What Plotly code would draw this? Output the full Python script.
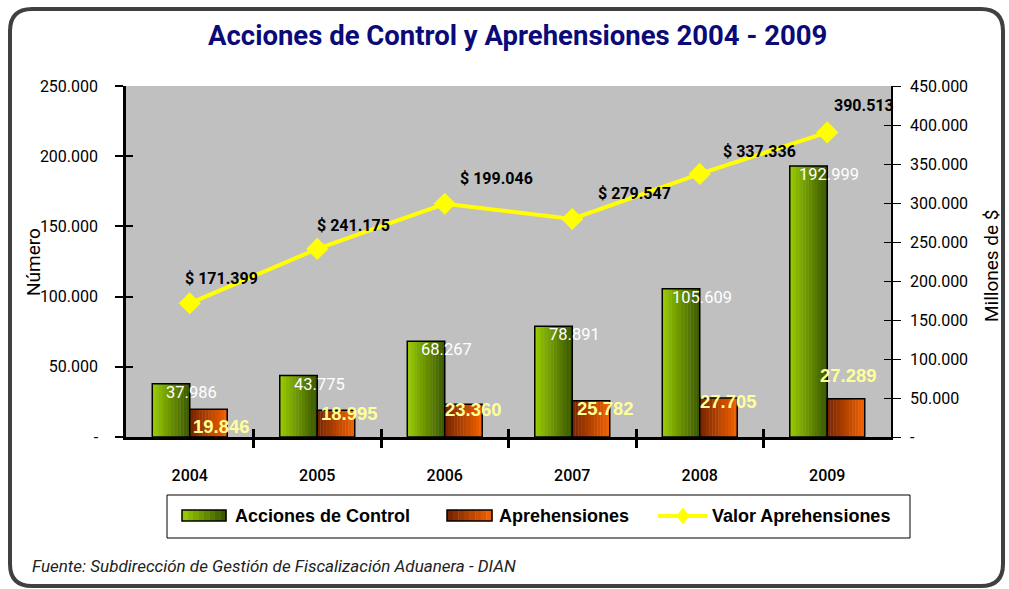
import plotly.graph_objects as go

# ---------------- data ----------------
years = ["2004", "2005", "2006", "2007", "2008", "2009"]
acciones = [37986, 43775, 68267, 78891, 105609, 192999]
aprehensiones = [19846, 18995, 23360, 25782, 27705, 27289]
valor = [171399, 241175, 299046, 279547, 337336, 390513]
valor_labels = ["$ 171.399", "$ 241.175", "$ 199.046", "$ 279.547", "$ 337.336", "390.513"]
left_ticks = [0, 50000, 100000, 150000, 200000, 250000]
right_ticks = [0, 50000, 100000, 150000, 200000, 250000, 300000, 350000, 400000, 450000]
series_names = ["Acciones de Control", "Aprehensiones", "Valor Aprehensiones"]

# ---------------- layout geometry ----------------
W, H = 1009, 589
L, R, T, B = 126, 891, 86, 437
RB = "Roboto, Liberation Sans, sans-serif"
SANS = "Liberation Sans, Arial, sans-serif"


def px(x):
    return (x - L) / (R - L)


def py(y):
    return (B - y) / (B - T)


def fmt(v):
    return "-" if v == 0 else f"{v:,}".replace(",", ".")


def lerp(c1, c2, t):
    a = [int(c1[i:i + 2], 16) for i in (1, 3, 5)]
    b = [int(c2[i:i + 2], 16) for i in (1, 3, 5)]
    return "#" + "".join(f"{round(a[k] + (b[k] - a[k]) * t):02x}" for k in range(3))


xs = list(range(len(years)))
group_w = 0.588
bw = group_w / 2
NSTRIP = 12
GREEN = ("#96c800", "#3c5a00")
ORANGE = ("#7a2600", "#f06000")

fig = go.Figure()


def gradient_bar(values, off, cols, name):
    for s in range(NSTRIP):
        t = s / (NSTRIP - 1)
        fig.add_trace(go.Bar(
            x=xs, y=values, width=bw / NSTRIP + 0.002, offset=off + s * bw / NSTRIP,
            marker=dict(color=lerp(cols[0], cols[1], t), line=dict(width=0)),
            showlegend=False, hoverinfo="skip"))
    fig.add_trace(go.Bar(
        x=xs, y=values, width=bw, offset=off, name=name,
        marker=dict(color="rgba(0,0,0,0)", line=dict(color="black", width=1.5)),
        showlegend=False))


gradient_bar(acciones, -bw, GREEN, series_names[0])
gradient_bar(aprehensiones, 0, ORANGE, series_names[1])

fig.add_trace(go.Scatter(
    x=xs, y=valor, yaxis="y2", mode="lines+markers", name=series_names[2],
    line=dict(color="#ffff00", width=4),
    marker=dict(symbol="diamond", size=17, color="#ffff00"), showlegend=False))

# dummy traces so overlay tick axes render
for xa, ya in (("x2", "y"), ("x3", "y"), ("x", "y3"), ("x", "y4")):
    fig.add_trace(go.Scatter(x=[0], y=[None], xaxis=xa, yaxis=ya, showlegend=False,
                             hoverinfo="skip", mode="markers"))

# ---------------- labels ----------------
ann = []
for i, v in enumerate(acciones):
    ann.append(dict(x=i, y=v, xref="x", yref="y", text=fmt(v), showarrow=False,
                    yanchor="top", xanchor="center", yshift=3, xshift=2,
                    font=dict(family=RB, size=16.5, color="white")))

ap_shift = [(13, -17), (14, -3), (10, -5), (15, -8), (10, -3), (3, 23)]
for i, v in enumerate(aprehensiones):
    dx, dy = ap_shift[i]
    ann.append(dict(x=i, y=v, xref="x", yref="y", text=fmt(v), showarrow=False,
                    yanchor="middle", xanchor="center", xshift=bw / 2 * 127.5 + dx, yshift=dy,
                    font=dict(family=SANS, size=18.5, color="#ffff99", weight="bold")))

val_shift = [(32, 25), (36, 23), (52, 25), (62, 25), (60, 22), (37, 27)]
for i, v in enumerate(valor):
    dx, dy = val_shift[i]
    ann.append(dict(x=i, y=v, xref="x", yref="y2", text=valor_labels[i], showarrow=False,
                    yanchor="middle", xanchor="center", xshift=dx, yshift=dy,
                    font=dict(family=RB, size=16, color="black", weight="bold")))


def paper_text(x, y, text, font, xanchor="center", angle=0):
    ann.append(dict(x=px(x), y=py(y), xref="paper", yref="paper", showarrow=False,
                    xanchor=xanchor, yanchor="middle", text=text, textangle=angle, font=font))


paper_text(517, 36, "Acciones de Control y Aprehensiones 2004 - 2009",
           dict(family=RB, size=27.5, color="#0a0a78", weight="bold"))
paper_text(33, 262, "Número", dict(family=RB, size=19, color="black"), angle=-90)
paper_text(991, 266, "Millones de $", dict(family=RB, size=19, color="black"), angle=-90)
paper_text(30, 566, "Fuente: Subdirección de Gestión de Fiscalización Aduanera - DIAN",
           dict(family=RB, size=17, color="#222222", style="italic"), xanchor="left")

# ---------------- manual legend ----------------
legfont = dict(family=SANS, size=18, color="black", weight="bold")
leg_y = 516
paper_text(233, leg_y, series_names[0], legfont, xanchor="left")
paper_text(497, leg_y, series_names[1], legfont, xanchor="left")
paper_text(710, leg_y, series_names[2], legfont, xanchor="left")

# ---------------- frame shapes ----------------
fx0, fy0, fx1, fy1, rr = 10, 9, 1003, 586, 22
path = (f"M {px(fx0 + rr)},{py(fy0)} L {px(fx1 - rr)},{py(fy0)} "
        f"Q {px(fx1)},{py(fy0)} {px(fx1)},{py(fy0 + rr)} "
        f"L {px(fx1)},{py(fy1 - rr)} Q {px(fx1)},{py(fy1)} {px(fx1 - rr)},{py(fy1)} "
        f"L {px(fx0 + rr)},{py(fy1)} Q {px(fx0)},{py(fy1)} {px(fx0)},{py(fy1 - rr)} "
        f"L {px(fx0)},{py(fy0 + rr)} Q {px(fx0)},{py(fy0)} {px(fx0 + rr)},{py(fy0)} Z")
shapes = [
    dict(type="path", path=path, xref="paper", yref="paper",
         line=dict(color="#404040", width=4), fillcolor="rgba(0,0,0,0)", layer="above"),
    dict(type="rect", xref="paper", yref="paper", x0=px(167), x1=px(910), y0=py(495), y1=py(538),
         line=dict(color="black", width=1), fillcolor="white", layer="below"),
]


def swatch(x0, x1, cols):
    n = 8
    for s in range(n):
        a = x0 + (x1 - x0) * s / n
        b = x0 + (x1 - x0) * (s + 1) / n
        shapes.append(dict(type="rect", xref="paper", yref="paper", x0=px(a), x1=px(b) + 0.0005,
                           y0=py(521), y1=py(510), line=dict(width=0),
                           fillcolor=lerp(cols[0], cols[1], s / (n - 1)), layer="above"))
    shapes.append(dict(type="rect", xref="paper", yref="paper", x0=px(x0), x1=px(x1),
                       y0=py(521), y1=py(510), line=dict(color="black", width=1.5),
                       fillcolor="rgba(0,0,0,0)", layer="above"))


swatch(182, 226, GREEN)
swatch(447, 492, ORANGE)
shapes.append(dict(type="line", xref="paper", yref="paper", x0=px(658), x1=px(707),
                   y0=py(leg_y), y1=py(leg_y), line=dict(color="#ffff00", width=4), layer="above"))
shapes.append(dict(type="path", xref="paper", yref="paper", layer="above",
                   path=f"M {px(683)},{py(leg_y - 8)} L {px(689)},{py(leg_y)} "
                        f"L {px(683)},{py(leg_y + 8)} L {px(677)},{py(leg_y)} Z",
                   fillcolor="#ffff00", line=dict(color="#ffff00", width=1)))

tickfont = dict(family=RB, size=16, color="black")
fig.update_layout(
    width=W, height=H,
    margin=dict(l=L, r=W - R, t=T, b=H - B, pad=0),
    paper_bgcolor="white", plot_bgcolor="#c0c0c0",
    barmode="overlay", showlegend=False,
    xaxis=dict(type="linear", range=[-0.5, 5.5], tickvals=xs, ticktext=years,
               showgrid=False, zeroline=False, showline=True, linecolor="black", linewidth=3,
               ticks="", tickfont=dict(family=RB, size=16, color="black", weight=500),
               ticklabelstandoff=22),
    xaxis2=dict(overlaying="x", type="linear", range=[-0.5, 5.5],
                tickvals=[x + 0.5 for x in xs[:-1]], showticklabels=False,
                ticks="outside", ticklen=10, tickwidth=2.5, tickcolor="black",
                showgrid=False, zeroline=False, anchor="y"),
    xaxis3=dict(overlaying="x", type="linear", range=[-0.5, 5.5],
                tickvals=[x + 0.5 for x in xs[:-1]], showticklabels=False,
                ticks="inside", ticklen=8, tickwidth=2.5, tickcolor="black",
                showgrid=False, zeroline=False, anchor="y"),
    yaxis=dict(range=[0, 250000], tickvals=left_ticks, ticktext=[fmt(v) for v in left_ticks],
               showgrid=False, zeroline=False, showline=True, linecolor="black", linewidth=2.5,
               ticks="outside", ticklen=8, tickwidth=2, tickcolor="black",
               tickfont=tickfont, ticklabelstandoff=14),
    yaxis3=dict(range=[0, 250000], overlaying="y", side="left", anchor="x",
                tickvals=left_ticks, showticklabels=False, ticks="inside", ticklen=7,
                tickwidth=2, tickcolor="black", showgrid=False, zeroline=False, showline=False),
    yaxis2=dict(range=[0, 450000], overlaying="y", side="right", anchor="x",
                tickvals=right_ticks, ticktext=[fmt(v) for v in right_ticks],
                showgrid=False, zeroline=False, showline=True, linecolor="black", linewidth=1.5,
                ticks="outside", ticklen=8, tickwidth=1, tickcolor="black",
                tickfont=tickfont, ticklabelstandoff=6),
    yaxis4=dict(range=[0, 450000], overlaying="y", side="right", anchor="x",
                tickvals=right_ticks, showticklabels=False, ticks="inside", ticklen=7,
                tickwidth=1, tickcolor="black", showgrid=False, zeroline=False, showline=False),
    annotations=ann, shapes=shapes,
)

fig.write_html("out.html", config={"displayModeBar": False},
               post_script="document.body.style.margin='0';document.body.style.padding='0';")
